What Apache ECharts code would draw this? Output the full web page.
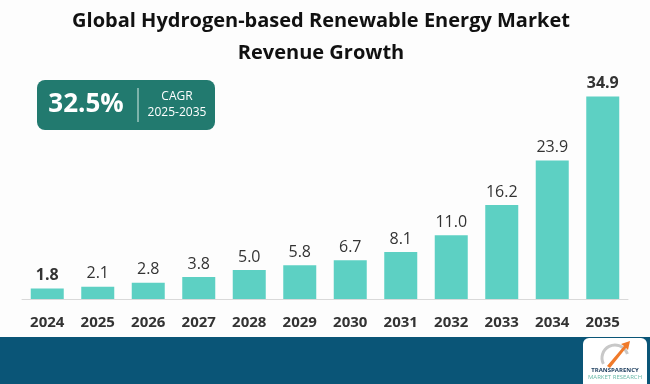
<!DOCTYPE html>
<html><head><meta charset="utf-8">
<script src="https://cdn.jsdelivr.net/npm/echarts@6/dist/echarts.min.js"></script>
<style>html,body{margin:0;padding:0;background:#fdfdfd}#c{width:650px;height:384px}</style>
</head><body><div id="c"></div>
<script>
const categories = ['2024','2025','2026','2027','2028','2029','2030','2031','2032','2033','2034','2035'];
const revenue = [1.8, 2.1, 2.8, 3.8, 5.0, 5.8, 6.7, 8.1, 11.0, 16.2, 23.9, 34.9];
const boldLabels = ['2024','2035'];
const titleLines = ['Global Hydrogen-based Renewable Energy Market', 'Revenue Growth'];
const cagrValue = '32.5%';
const cagrLabel = 'CAGR';
const cagrPeriod = '2025-2035';

const chart = echarts.init(document.getElementById('c'));
const F = '"Open Sans", "Liberation Sans", sans-serif';
chart.setOption({
  backgroundColor: '#fdfdfd',
  animation: false,
  grid: {left: 22, right: 22, top: 67, bottom: 85},
  xAxis: {
    type: 'category', data: categories,
    axisLine: {lineStyle: {color: '#d9d9d9', width: 1}},
    axisTick: {show: false},
    axisLabel: {color: '#333', fontSize: 15, fontWeight: 'bold', fontFamily: F, margin: 16}
  },
  yAxis: {type: 'value', min: 0, max: 40, show: false, splitLine: {show: false}},
  series: [{
    type: 'bar', barWidth: 33,
    data: revenue.map((v, i) => ({
      value: v,
      label: {fontWeight: boldLabels.includes(categories[i]) ? 'bold' : 'normal'}
    })),
    itemStyle: {color: '#5dd0c3'},
    label: {show: true, position: 'top', distance: 5, color: '#333', fontSize: 16, fontFamily: F,
      formatter: p => p.value.toFixed(1)}
  }],
  graphic: [
    {type: 'text', x: 321, y: 21, style: {text: titleLines[0], font: 'bold 20px ' + F, fill: '#111', align: 'center', verticalAlign: 'middle'}},
    {type: 'text', x: 321, y: 53, style: {text: titleLines[1], font: 'bold 20px ' + F, fill: '#111', align: 'center', verticalAlign: 'middle'}},
    {type: 'rect', shape: {x: 37, y: 80, width: 178, height: 50, r: 8}, style: {fill: '#227a6f'}},
    {type: 'text', x: 86, y: 105, style: {text: cagrValue, font: 'bold 26px ' + F, fill: '#fff', align: 'center', verticalAlign: 'middle'}},
    {type: 'line', shape: {x1: 138, y1: 88, x2: 138, y2: 122}, style: {stroke: '#d8ece8', lineWidth: 1}},
    {type: 'text', x: 177, y: 97, style: {text: cagrLabel, font: '12px ' + F, fill: '#fff', align: 'center', verticalAlign: 'middle'}},
    {type: 'text', x: 177, y: 113, style: {text: cagrPeriod, font: '12px ' + F, fill: '#fff', align: 'center', verticalAlign: 'middle'}},
    {type: 'rect', shape: {x: 0, y: 337, width: 650, height: 47}, style: {fill: '#0a5577'}},
    {type: 'rect', shape: {x: 583, y: 338, width: 64, height: 52, r: 6}, style: {fill: '#fff'}},
    {type: 'arc', shape: {cx: 615, cy: 358, r: 13, startAngle: Math.PI*0.85, endAngle: Math.PI*1.9}, style: {stroke: '#c8c8c8', lineWidth: 3, fill: null}},
    {type: 'polygon', shape: {points: [[607,366],[624,346],[621,344],[630,341],[628,350],[626,348],[610,368]]}, style: {fill: '#f07a2a'}},
    {type: 'text', x: 615, y: 367, style: {text: 'TRANSPARENCY', font: 'bold 6px ' + F, fill: '#1a3b5c', align: 'center'}},
    {type: 'text', x: 615, y: 374, style: {text: 'MARKET RESEARCH', font: '6px ' + F, fill: '#6ab9a8', align: 'center'}}
  ]
});
</script></body></html>
